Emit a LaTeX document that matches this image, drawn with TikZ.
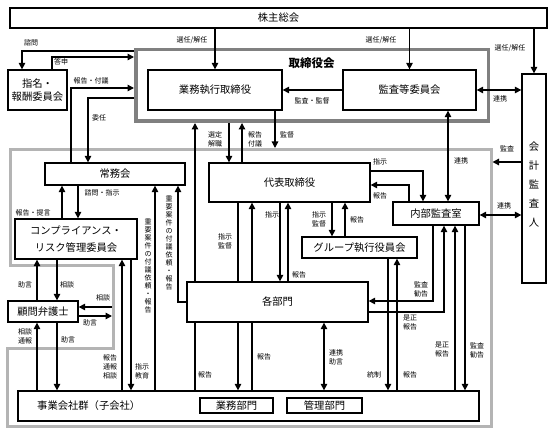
\documentclass[tikz,border=0pt]{standalone}
\usepackage{fontspec}
\setmainfont{Noto Sans CJK JP}
\usetikzlibrary{arrows.meta}
\pgfdeclarelayer{bg}
\pgfsetlayers{bg,main}
\definecolor{boardgray}{RGB}{128,128,128}
\definecolor{execgray}{RGB}{180,180,180}
\begin{document}
\begin{tikzpicture}[x=1pt,y=-1pt,
  bx/.style={draw, line width=1.3pt, fill=white, inner sep=0pt, align=center, font=\fontsize{10.3}{13}\selectfont},
  lb/.style={inner sep=0pt, align=center, font=\fontsize{7}{9}\selectfont},
  vlb/.style={inner sep=0pt, align=center, font=\fontsize{7}{8}\selectfont},
  arr/.style={line width=1.3pt, -{Triangle[length=6.5pt,width=6.5pt]}},
  darr/.style={line width=1.3pt, {Triangle[length=6.5pt,width=6.5pt]}-{Triangle[length=6.5pt,width=6.5pt]}},
]
\useasboundingbox (0,0) rectangle (553,435);

% ---- boxes (main layer) ----
\node[bx, minimum width=537pt, minimum height=20pt] (kabu) at (278.5,18) {株主総会};
\node[bx, minimum width=134pt, minimum height=40pt] (gyomu) at (215,90) {業務執行取締役};
\node[bx, minimum width=133pt, minimum height=40pt] (kansa) at (409.5,90) {監査等委員会};
\node[bx, minimum width=59pt, minimum height=40pt] (shimei) at (37.5,90) {指名・\\報酬委員会};
\node[bx, minimum width=24pt, minimum height=209pt] (kaikei) at (534,178.5) {};
\node[inner sep=0pt, align=center, font=\fontsize{10.3}{19}\selectfont] (kaikeitext) at (534,185) {会\\計\\監\\査\\人};
\node[bx, minimum width=140pt, minimum height=22pt] (jomu) at (115,174) {常務会};
\node[bx, minimum width=161pt, minimum height=39pt] (daihyo) at (289.5,182.5) {代表取締役};
\node[bx, minimum width=86pt, minimum height=23pt] (naibu) at (436,213.5) {内部監査室};
\node[bx, minimum width=115pt, minimum height=21pt] (group) at (359.5,247.5) {グループ執行役員会};
\node[bx, minimum width=122pt, minimum height=40pt, font=\fontsize{10.3}{17}\selectfont] (comp) at (76,239) {コンプライアンス・\\リスク管理委員会};
\node[bx, minimum width=70pt, minimum height=21pt] (komon) at (43,311.5) {顧問弁護士};
\node[bx, minimum width=181pt, minimum height=40pt] (kakubu) at (277.5,302) {各部門};
\node[bx, minimum width=461pt, minimum height=30pt] (jigyo) at (248.5,406) {};
\node[inner sep=0pt, anchor=west, font=\fontsize{10.3}{13}\selectfont] (jigyotext) at (37,406) {事業会社群（子会社）};
\node[bx, minimum width=73pt, minimum height=15pt] (gyomubu) at (236.5,405.5) {業務部門};
\node[bx, minimum width=75pt, minimum height=15pt] (kanribu) at (324.5,405.5) {管理部門};

\begin{pgfonlayer}{bg}
% ---- frames ----
\node[draw=boardgray, line width=3.5pt, minimum width=352.5pt, minimum height=71.5pt, inner sep=0pt] (board) at (312,85.5) {};
\node[inner sep=0pt, font=\bfseries\fontsize{11.5}{13}\selectfont] (boardtitle) at (311.5,63) {取締役会};
\draw[execgray, line width=3pt] (10,149.5) -- (491,149.5) -- (491,426) -- (7.5,426) -- (7.5,348.5)
  -- (113.5,348.5) -- (113.5,265.5) -- (10,265.5) -- cycle;
\coordinate (efTop) at (275,148);
\coordinate (efRight) at (492.5,162);
\coordinate (notchA) at (112,307);
\coordinate (notchB) at (112,316);

% ---- connectors ----
\draw[arr] (kabu.south -| gyomu.north) -- (gyomu.north);
\draw[arr] (kabu.south -| kansa.north) -- (kansa.north);
\draw[arr] (kabu.south -| kaikei.north) -- (kaikei.north);
\draw[arr] (kansa.west) -- (gyomu.east);
\draw[darr] (kansa.east) -- (kansa.east -| kaikei.west);
\draw[arr] (board.west |- 0,51) -- (22,51) -- (22,0 |- shimei.north);
\draw[arr] (52,0 |- shimei.north) |- (board.west |- 0,57);
\draw[arr] (71,0 |- jomu.north) |- (board.west |- 0,88);
\draw[arr] (board.west |- 0,98) -| (88,0 |- jomu.north);
\draw[arr] (195,0 |- jigyo.north) -- (195,0 |- board.south);
\draw[arr] (229,0 |- board.south) -- (229,0 |- daihyo.north);
\draw[arr] (242,0 |- daihyo.north) -- (242,0 |- board.south);
\draw[arr] (275,0 |- gyomu.south) -- (efTop);
\draw[arr] (238,0 |- daihyo.south) -- (238,0 |- jigyo.north);
\draw[arr] (252,0 |- jigyo.north) -- (252,0 |- daihyo.south);
\draw[arr] (280,0 |- daihyo.south) -- (280,0 |- kakubu.north);
\draw[arr] (288,0 |- kakubu.north) -- (288,0 |- daihyo.south);
\draw[darr] (324,0 |- kakubu.south) -- (324,0 |- jigyo.north);
\draw[arr] (332,0 |- daihyo.south) -- (332,0 |- group.north);
\draw[arr] (345,0 |- group.north) -- (345,0 |- daihyo.south);
\draw[arr] (daihyo.east |- 0,171) -| (423,0 |- naibu.north);
\draw[arr] (409,0 |- naibu.north) |- (daihyo.east |- 0,185);
\draw[darr] (448,0 |- kansa.south) -- (448,0 |- naibu.north);
\draw[arr] (kaikei.west |- efRight) -- (efRight);
\draw[darr] (naibu.east |- 0,215) -- (kaikei.west |- 0,215);
\draw[arr] (433,0 |- naibu.south) |- (kakubu.east |- 0,301);
\draw[arr] (kakubu.east |- 0,312) -| (444,0 |- naibu.south);
\draw[arr] (455,0 |- jigyo.north) -- (455,0 |- naibu.south);
\draw[arr] (465,0 |- naibu.south) -- (465,0 |- jigyo.north);
\draw[arr] (388,0 |- group.south) -- (388,0 |- jigyo.north);
\draw[arr] (397,0 |- jigyo.north) -- (397,0 |- group.south);
\draw[arr] (kakubu.west) -| (178,0 |- jomu.south);
\draw[arr] (155,0 |- jigyo.north) -- (155,0 |- jomu.south);
\draw[arr] (62,0 |- comp.north) -- (62,0 |- jomu.south);
\draw[arr] (78,0 |- jomu.south) -- (78,0 |- comp.north);
\draw[arr] (37,0 |- komon.north) -- (37,0 |- comp.south);
\draw[arr] (57,0 |- comp.south) -- (57,0 |- komon.north);
\draw[arr] (notchA) -- (komon.east |- notchA);
\draw[arr] (komon.east |- notchB) -- (notchB);
\draw[arr] (37,0 |- jigyo.north) -- (37,0 |- komon.south);
\draw[arr] (57,0 |- komon.south) -- (57,0 |- jigyo.north);
\draw[arr] (122,0 |- jigyo.north) -- (122,0 |- comp.south);
\draw[arr] (131,0 |- comp.south) -- (131,0 |- jigyo.north);

% ---- labels ----
\node[lb] (l1) at (192,40) {選任/解任};
\node[lb] (l2) at (381,40) {選任/解任};
\node[lb] (l3) at (510,48) {選任/解任};
\node[lb] (l4) at (312,101) {監査・監督};
\node[lb] (l5) at (500,99) {連携};
\node[lb] (l6) at (31,43) {諮問};
\node[lb] (l7) at (61,62) {答申};
\node[lb] (l8) at (91,81) {報告・付議};
\node[lb] (l9) at (99,118) {委任};
\node[lb] (l10) at (215,139) {選定\\解職};
\node[lb] (l11) at (255,139) {報告\\付議};
\node[lb] (l12) at (287,135) {監督};
\node[lb] (l13) at (205,375) {報告};
\node[lb] (l14) at (225,241) {指示\\監督};
\node[lb] (l15) at (264,357) {報告};
\node[lb] (l16) at (272,215) {指示};
\node[lb] (l17) at (299,275) {報告};
\node[lb] (l18) at (336,357) {連携\\助言};
\node[lb] (l19) at (319,219) {指示\\監督};
\node[lb] (l20) at (357,220) {報告};
\node[lb] (l21) at (380,162) {指示};
\node[lb] (l22) at (380,196) {報告};
\node[lb] (l23) at (461,161) {連携};
\node[lb] (l24) at (507,149) {監査};
\node[lb] (l25) at (504,206) {連携};
\node[lb] (l26) at (421,289) {監査\\勧告};
\node[lb] (l27) at (410,323) {是正\\報告};
\node[lb] (l28) at (442,350) {是正\\報告};
\node[lb] (l29) at (477,350) {監査\\勧告};
\node[lb] (l30) at (374,375) {統制};
\node[lb] (l31) at (410,375) {報告};
\node[vlb] (l32) at (169,243) {重\\要\\案\\件\\の\\付\\議\\依\\頼\\・\\報\\告};
\node[vlb] (l33) at (148,266) {重\\要\\案\\件\\の\\付\\議\\依\\頼\\・\\報\\告};
\node[lb] (l34) at (33,213) {報告・提言};
\node[lb] (l35) at (102,193) {諮問・指示};
\node[lb] (l36) at (25,285) {助言};
\node[lb] (l37) at (67,285) {相談};
\node[lb] (l38) at (103,298) {相談};
\node[lb] (l39) at (90,323) {助言};
\node[lb] (l40) at (25,336) {相談\\通報};
\node[lb] (l41) at (68,340) {助言};
\node[lb] (l42) at (110,367) {報告\\通報\\相談};
\node[lb] (l43) at (142,371) {指示\\教育};
\end{pgfonlayer}
\end{tikzpicture}
\end{document}
